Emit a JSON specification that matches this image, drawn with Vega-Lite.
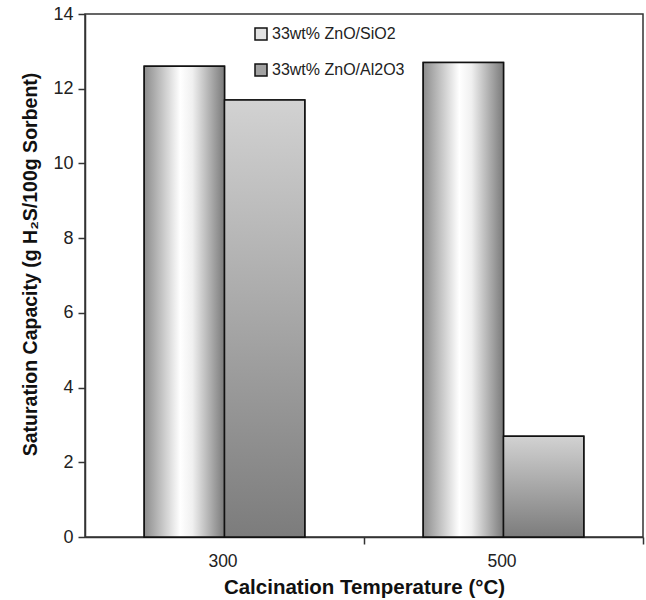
{
  "$schema": "https://vega.github.io/schema/vega-lite/v6.json",
  "autosize": {"type": "none"},
  "width": 558,
  "height": 523,
  "padding": {"left": 85, "top": 14, "right": 3, "bottom": 63},
  "background": "white",
  "config": {
    "view": {"stroke": "#333333", "strokeWidth": 1.5},
    "font": "Liberation Sans"
  },
  "data": {
    "values": [
      {"temp": "300", "series": "33wt% ZnO/SiO2", "capacity": 12.6},
      {"temp": "300", "series": "33wt% ZnO/Al2O3", "capacity": 11.7},
      {"temp": "500", "series": "33wt% ZnO/SiO2", "capacity": 12.7},
      {"temp": "500", "series": "33wt% ZnO/Al2O3", "capacity": 2.7}
    ]
  },
  "encoding": {
    "x": {
      "field": "temp",
      "type": "nominal",
      "sort": ["300", "500"],
      "scale": {"paddingInner": 0, "paddingOuter": 0},
      "axis": {
        "title": "Calcination Temperature (°C)",
        "titleFont": "Liberation Sans",
        "titleFontSize": 20.5,
        "titleFontWeight": "bold",
        "titleColor": "#111111",
        "titlePadding": 8,
        "labelAngle": 0,
        "labelFontSize": 17.5,
        "labelColor": "#222222",
        "labelPadding": 8,
        "labelOffset": -141,
        "tickOffset": 139,
        "tickSize": 7,
        "tickColor": "#333333",
        "tickWidth": 1.5,
        "domainColor": "#333333",
        "domainWidth": 1.5
      }
    },
    "xOffset": {
      "field": "series",
      "type": "nominal",
      "sort": ["33wt% ZnO/SiO2", "33wt% ZnO/Al2O3"],
      "scale": {"paddingInner": 0, "paddingOuter": 0.7375}
    },
    "y": {
      "field": "capacity",
      "type": "quantitative",
      "scale": {"domain": [0, 14], "nice": false},
      "axis": {
        "title": "Saturation Capacity (g H₂S/100g Sorbent)",
        "titleFont": "Liberation Sans",
        "titleFontSize": 19.5,
        "titleFontWeight": "bold",
        "titleColor": "#111111",
        "titlePadding": 12,
        "titleY": 250,
        "values": [0, 2, 4, 6, 8, 10, 12, 14],
        "grid": false,
        "labelFontSize": 18,
        "labelColor": "#222222",
        "labelPadding": 5,
        "tickSize": 7,
        "tickColor": "#333333",
        "tickWidth": 1.5,
        "domainColor": "#333333",
        "domainWidth": 1.5
      }
    }
  },
  "layer": [
    {
      "mark": {"type": "bar", "strokeWidth": 1.5},
      "encoding": {
        "fill": {
          "field": "series",
          "type": "nominal",
          "sort": ["33wt% ZnO/SiO2", "33wt% ZnO/Al2O3"],
          "scale": {
            "domain": ["33wt% ZnO/SiO2", "33wt% ZnO/Al2O3"],
            "range": ["#e2e2e2", "#a2a2a2"]
          },
          "legend": {
            "title": null,
            "orient": "none",
            "legendX": 168,
            "legendY": 12,
            "symbolType": "square",
            "symbolSize": 144,
            "symbolOpacity": 1,
            "symbolStrokeWidth": 1.5,
            "labelFontSize": 16,
            "labelColor": "#222222",
            "labelOffset": 3,
            "rowPadding": 18
          }
        },
        "stroke": {
          "field": "series",
          "type": "nominal",
          "sort": ["33wt% ZnO/SiO2", "33wt% ZnO/Al2O3"],
          "scale": {
            "domain": ["33wt% ZnO/SiO2", "33wt% ZnO/Al2O3"],
            "range": ["#111111", "#111111"]
          },
          "legend": {
            "title": null,
            "orient": "none",
            "legendX": 168,
            "legendY": 12,
            "symbolType": "square",
            "symbolSize": 144,
            "symbolOpacity": 1,
            "symbolStrokeWidth": 1.5,
            "labelFontSize": 16,
            "labelColor": "#222222",
            "labelOffset": 3,
            "rowPadding": 18
          }
        }
      }
    },
    {
      "transform": [{"filter": "datum.series === '33wt% ZnO/SiO2'"}],
      "mark": {
        "type": "bar",
        "stroke": "#111111",
        "strokeWidth": 1.5,
        "fill": {
          "gradient": "linear", "x1": 0, "y1": 0, "x2": 1, "y2": 0,
          "stops": [
            {"offset": 0, "color": "#8c8c8c"},
            {"offset": 0.45, "color": "#ffffff"},
            {"offset": 0.6, "color": "#f0f0f0"},
            {"offset": 1, "color": "#7a7a7a"}
          ]
        }
      }
    },
    {
      "transform": [{"filter": "datum.series === '33wt% ZnO/Al2O3'"}],
      "mark": {
        "type": "bar",
        "stroke": "#111111",
        "strokeWidth": 1.5,
        "fill": {
          "gradient": "linear", "x1": 0, "y1": 0, "x2": 0, "y2": 1,
          "stops": [
            {"offset": 0, "color": "#d2d2d2"},
            {"offset": 1, "color": "#7c7c7c"}
          ]
        }
      }
    }
  ]
}
